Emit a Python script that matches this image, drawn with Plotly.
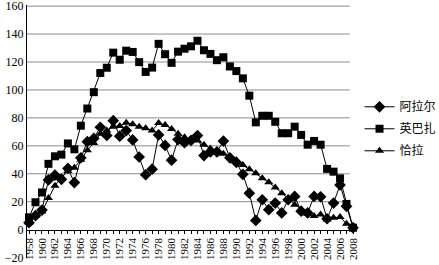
import plotly.graph_objects as go

years = list(range(1958, 2009))

alaer = [5, 10, 14, 35.6, 39, 36, 43.8, 33.7, 51.4, 63, 65.3, 73.3, 67.4, 78, 66.9, 70.9, 64.2, 52, 39.3,
         43.3, 67.8, 60.3, 49.7, 64.5, 62.2, 63.8, 67.4, 53, 55.6, 55.6, 63.4, 51.4, 48.1, 39.6, 26.1,
         6.6, 21.4, 14.3, 19, 12, 21.4, 23.8, 13.2, 12, 23.8, 23.5, 7.8, 19, 32, 16.7, 1.4]

yingbazha = [8.8, 19.6, 26.6, 47.1, 52.5, 53.7, 61.7, 57.5, 74.4, 86.7, 98.4, 112.1, 115.9, 126.7, 121.6,
             128.1, 127.2, 119.9, 112.9, 116, 133, 125.6, 119.4, 127.4, 129.5, 131.2, 135.2, 128.4, 125.8,
             121.3, 123.4, 116.8, 113.5, 108.3, 95.9, 76.8, 81.5, 81.5, 77.2, 69, 69, 73.7, 67.8, 60.8,
             63.5, 60.8, 43.5, 41.5, 36.7, 18.4, 1.4]

qiala = [5, 10, 13, 22.6, 31.5, 37.5, 42, 44.3, 50, 56.8, 62, 68.6, 70.9, 73.7, 74.2, 76.5, 75.5, 73.6, 72.5,
         70.9, 76.3, 74.9, 72.1, 68.6, 66.2, 65, 63.8, 60.8, 58, 55.6, 54.4, 52.1, 49.7, 46.2, 43.3, 40.3,
         36.7, 33.9, 30.2, 26.1, 22.1, 17.9, 14.3, 11.3, 9.7, 10.8, 7.3, 8.5, 9, 4.2, 1]

y_ticks = [-20, 0, 20, 40, 60, 80, 100, 120, 140, 160]
grid_vals = [20, 40, 60, 80, 100, 120, 140, 160]

names = ["阿拉尔", "英巴扎", "恰拉"]
symbols = ["diamond", "square", "triangle-up"]
sizes = [9, 8, 8]
series = [alaer, yingbazha, qiala]

fig = go.Figure()
for nm, sym, sz, vals in zip(names, symbols, sizes, series):
    fig.add_trace(go.Scatter(
        x=years, y=vals, name=nm, mode="lines+markers",
        line=dict(color="black", width=1),
        marker=dict(symbol=sym, size=sz, color="black"),
        cliponaxis=False, legendgroup=nm,
    ))

for v in grid_vals:
    fig.add_shape(type="line", xref="paper", x0=0, x1=0.99, yref="y", y0=v, y1=v,
                  line=dict(color="#8c8c8c", width=1), layer="below")

ticktext = [str(y) if (y - 1958) % 2 == 0 else "" for y in years]

fig.update_layout(
    width=439, height=265,
    margin=dict(l=27, r=86, t=5, b=7, autoexpand=False),
    paper_bgcolor="white", plot_bgcolor="white",
    showlegend=True,
    legend=dict(x=1.02, y=0.655, xanchor="left", yanchor="top",
                font=dict(family="Noto Sans CJK SC", size=12, color="black"),
                tracegroupgap=3, itemwidth=30, bgcolor="rgba(0,0,0,0)"),
    font=dict(family="Liberation Serif", color="black"),
    xaxis=dict(range=[1957.69, 2008], anchor="free", position=20.3 / 181.1,
               showline=True, linecolor="black", linewidth=1,
               showgrid=False, zeroline=False, automargin=False,
               tickmode="array", tickvals=years, ticktext=ticktext,
               ticks="outside", ticklen=3, tickcolor="black", ticklabeloverflow="allow",
               tickangle=-90, tickfont=dict(family="Liberation Serif", size=11, color="black")),
    yaxis=dict(range=[-20.3, 160.8], tickmode="array", tickvals=y_ticks,
               showline=True, linecolor="black", linewidth=1, automargin=False,
               showgrid=False, zeroline=False, ticks="", ticklen=0, ticklabeloverflow="allow",
               tickfont=dict(family="Liberation Serif", size=12, color="black")),
)

fig.write_html("out.html")
